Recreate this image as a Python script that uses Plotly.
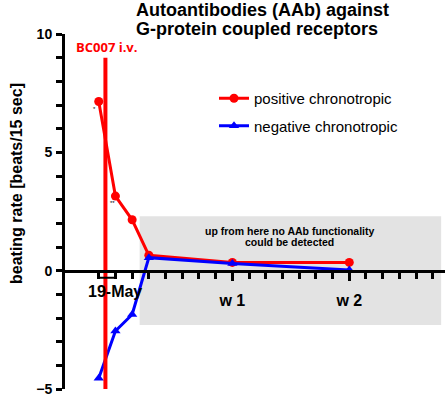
import plotly.graph_objects as go

# data (x in days; 19-May = day 1)
days = [0, 1, 2, 3, 8, 15]
positive = [7.15, 3.15, 2.15, 0.65, 0.35, 0.35]
negative = [-4.55, -2.55, -1.85, 0.55, 0.3, 0.03]
tick_days = [8, 15]
tick_text = ["w 1", "w 2"]
minor_days = [0, 1, 2, 3, 4, 5, 6, 7, 9, 10, 11, 12, 13, 14, 16, 17, 18, 19, 20]
date_label = "19-May"
date_day = 1
injection_day = 0.4
injection_span = [-5, 9]
no_func_box = [2.45, 20.5, -2.3, 2.3]

RED = "#ff0000"
BLUE = "#0000ff"
FONT = "Liberation Sans, Arial, sans-serif"

TOP, BOT = 34, 9
PH = 398 - TOP - BOT
L, R = 65, 2
PW = 447 - L - R


def py(p):
    return (398 - BOT - p) / PH


def px(p):
    return (p - L) / PW


fig = go.Figure()
fig.add_trace(go.Scatter(
    x=days, y=positive, mode="lines+markers", name="positive chronotropic",
    line=dict(color=RED, width=3), marker=dict(symbol="circle", size=9, color=RED),
    legendgroup="a"))
fig.add_trace(go.Scatter(
    x=days, y=negative, mode="lines+markers", name="negative chronotropic",
    line=dict(color=BLUE, width=3), marker=dict(symbol="triangle-up", size=9, color=BLUE),
    legendgroup="b"))

# injection line
fig.add_trace(go.Scatter(
    x=[injection_day, injection_day], y=injection_span, mode="lines",
    line=dict(color=RED, width=4), showlegend=False, hoverinfo="skip"))

# invisible trace to carry the labelled week axis
fig.add_trace(go.Scatter(x=tick_days, y=[0, 0], xaxis="x2", mode="markers",
                         marker=dict(opacity=0), showlegend=False, hoverinfo="skip"))

# gray region
fig.add_shape(type="rect", xref="x", yref="y",
              x0=no_func_box[0], x1=no_func_box[1], y0=no_func_box[2], y1=no_func_box[3],
              fillcolor="#e3e3e3", line=dict(width=0), layer="below")
# bracket under 19-May
fig.add_shape(type="path", xref="x", yref="y",
              path="M 0,-0.05 L 0,-0.3 L 1,-0.3 L 1,-0.05",
              line=dict(color="black", width=2))

fig.add_annotation(x=11.45, y=1.68, xref="x", yref="y", showarrow=False,
                   text="<b>up from here no AAb functionality</b>",
                   font=dict(family=FONT, size=10.5, color="black"))
fig.add_annotation(x=11.45, y=1.21, xref="x", yref="y", showarrow=False,
                   text="<b>could be detected</b>",
                   font=dict(family=FONT, size=10.5, color="black"))
fig.add_annotation(x=0.45, y=9.45, xref="x", yref="y", showarrow=False,
                   text="<b>BC007 i.v.</b>",
                   font=dict(family="Open Sans, sans-serif", size=13, color=RED))
fig.add_annotation(x=date_day, y=-0.9, xref="x", yref="y", showarrow=False,
                   text="<b>" + date_label + "</b>",
                   font=dict(family=FONT, size=16, color="black"))
fig.add_annotation(x=-0.25, y=6.85, xref="x", yref="y", showarrow=False, text="*",
                   font=dict(family=FONT, size=6, color="black"))
fig.add_annotation(x=0.85, y=2.85, xref="x", yref="y", showarrow=False, text="**",
                   font=dict(family=FONT, size=6, color="black"))
# title (two lines)
fig.add_annotation(x=px(134), y=py(10), xref="paper", yref="paper",
                   xanchor="left", yanchor="middle", showarrow=False,
                   text="<b>Autoantibodies (AAb) against</b>",
                   font=dict(family=FONT, size=18, color="black"))
fig.add_annotation(x=px(134), y=py(29), xref="paper", yref="paper",
                   xanchor="left", yanchor="middle", showarrow=False,
                   text="<b>G-protein coupled receptors</b>",
                   font=dict(family=FONT, size=18, color="black"))
# y-axis title
fig.add_annotation(x=px(16), y=py(184), xref="paper", yref="paper",
                   xanchor="center", yanchor="middle", showarrow=False, textangle=-90,
                   text="<b>beating rate [beats/15 sec]</b>",
                   font=dict(family=FONT, size=16, color="black"))

fig.update_layout(
    width=447, height=398,
    margin=dict(l=L, r=R, t=TOP, b=BOT, autoexpand=False),
    paper_bgcolor="white", plot_bgcolor="white",
    font=dict(family=FONT, color="black"),
    showlegend=True,
    legend=dict(x=px(214), y=py(82), xanchor="left", yanchor="top",
                xref="paper", yref="paper",
                font=dict(family=FONT, size=15, color="black"),
                bgcolor="rgba(0,0,0,0)", tracegroupgap=5, itemwidth=30),
    xaxis=dict(range=[-2.02, 20.73], anchor="free", position=1/3,
               showline=True, linecolor="black", linewidth=3,
               tickmode="array", tickvals=minor_days, ticktext=[""] * len(minor_days),
               ticks="outside", ticklen=6, tickwidth=2.5, tickcolor="black",
               showgrid=False, zeroline=False),
    xaxis2=dict(range=[-2.02, 20.73], overlaying="x", anchor="free", position=1/3,
                side="bottom", showline=False,
                tickmode="array", tickvals=tick_days, ticktext=tick_text,
                ticks="outside", ticklen=9, tickwidth=2.5, tickcolor="black",
                ticklabelstandoff=6,
                tickfont=dict(family=FONT, size=16, color="black", weight="bold"),
                showgrid=False, zeroline=False),
    yaxis=dict(range=[-5, 10], showline=True, linecolor="black", linewidth=3,
               tickmode="linear", tick0=0, dtick=5,
               ticks="outside", ticklen=6, tickwidth=2.5, tickcolor="black",
               ticklabelstandoff=1,
               tickfont=dict(family=FONT, size=14, color="black", weight="bold"),
               minor=dict(tickmode="linear", tick0=0, dtick=1, ticks="outside", ticklen=6,
                          tickwidth=2.5, tickcolor="black", showgrid=False),
               showgrid=False, zeroline=False),
)

fig.write_html("out.html", config={"displayModeBar": False},
               post_script="document.body.style.margin='0px';document.body.style.overflow='hidden';")
